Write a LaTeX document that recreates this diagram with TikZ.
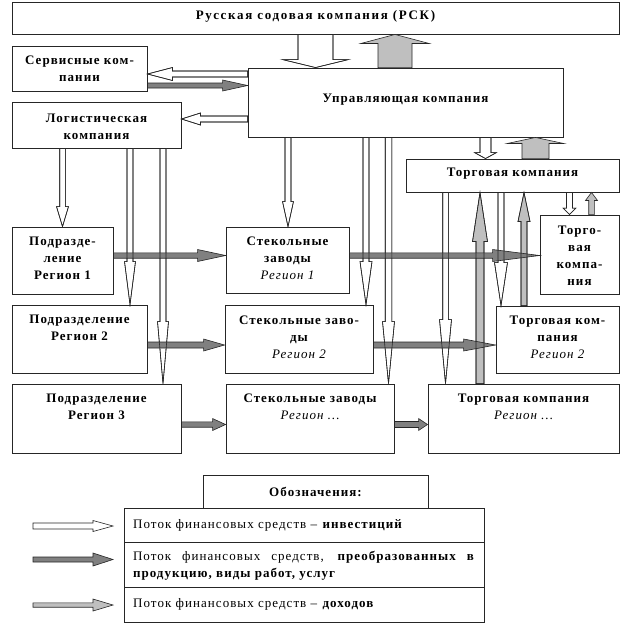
\documentclass[tikz,border=0pt]{standalone}
\usepackage{fontspec}
\setmainfont{Liberation Serif}[LetterSpace=8]
\usetikzlibrary{calc,fit}

\tikzset{
 box/.style={draw=black!85, line width=0.9pt, fill=white, inner sep=0pt},
 txt/.style={font=\bfseries\fontsize{13}{17}\selectfont, align=center, inner sep=0pt},
 ltxt/.style={font=\fontsize{13}{17}\selectfont, inner sep=0pt},
 wA/.style={draw=black!85, line width=0.6pt, fill=white},
 wO/.style={draw=black!85, line width=0.6pt},
 dA/.style={draw=black!85, line width=0.6pt, fill=black!50},
 gA/.style={draw=black!85, line width=0.6pt, fill=black!25},
 gO/.style={draw=black!85, line width=0.6pt},
}

% block arrow: style, start, end, shaft half width, head half width, head length
\newcommand\barr[6]{%
 \path #2 coordinate (ba-s) #3 coordinate (ba-e);
 \coordinate (ba-h) at ($(ba-e)!#6pt!(ba-s)$);
 \draw[#1] ($(ba-s)!#4pt!90:(ba-e)$) -- ($(ba-h)!#4pt!90:(ba-e)$) -- ($(ba-h)!#5pt!90:(ba-e)$) -- (ba-e) -- ($(ba-h)!#5pt!-90:(ba-e)$) -- ($(ba-h)!#4pt!-90:(ba-e)$) -- ($(ba-s)!#4pt!-90:(ba-e)$) -- cycle;
}

\newcommand\whitearrows[1]{%
 \barr{#1}{(rsk.south)}{(upr.north -| rsk.south)}{17.5}{33}{8}
 \barr{#1}{(upr.west |- 0,74)}{(serv.east |- 0,74)}{3}{6.5}{25}
 \barr{#1}{(upr.west |- 0,119)}{(logist.east |- 0,119)}{3}{6}{19}
 \barr{#1}{(62.5,0 |- logist.south)}{(62.5,0 |- reg1.north)}{2.8}{6}{20}
 \barr{#1}{(130,0 |- logist.south)}{(130,0 |- reg2.north)}{3}{5.5}{43}
 \barr{#1}{(163,0 |- logist.south)}{(163,0 |- reg3.north)}{3}{5.5}{62}
 \barr{#1}{(288,0 |- upr.south)}{(288,0 |- st1.north)}{3}{5.5}{25}
 \barr{#1}{(366,0 |- upr.south)}{(366,0 |- st2.north)}{3}{6}{43}
 \barr{#1}{(388.5,0 |- upr.south)}{(388.5,0 |- st3.north)}{3.3}{6}{62}
 \barr{#1}{(485.5,0 |- upr.south)}{(485.5,0 |- torg.north)}{5.5}{11}{6}
 \barr{#1}{(569.5,0 |- torg.south)}{(569.5,0 |- torgS.north)}{3}{6.5}{6.5}
 \barr{#1}{(501,0 |- torg.south)}{(501,0 |- tk2.north)}{3}{6.5}{43}
 \barr{#1}{(445.5,0 |- torg.south)}{(445.5,0 |- tk3.north)}{2.8}{6}{64}
}

\newcommand\tallgrey[1]{%
 \barr{#1}{(480,0 |- tk3.north)}{(480,0 |- torg.south)}{4}{7.5}{49}
 \barr{#1}{(524,0 |- tk2.north)}{(524,0 |- torg.south)}{3}{6}{29}
}

\begin{document}
\begin{tikzpicture}[x=1pt,y=-1pt]
\useasboundingbox (0,0) rectangle (642,633);

% boxes
\node[box, fit={(12,2) (619,34)}] (rsk) {};
\node[box, fit={(12,46) (147,91)}] (serv) {};
\node[box, fit={(12,102) (181,148)}] (logist) {};
\node[box, fit={(248,68) (563,137)}] (upr) {};
\node[box, fit={(406,159) (619,192)}] (torg) {};
\node[box, fit={(12,227) (113,294)}] (reg1) {};
\node[box, fit={(226,227) (349,293)}] (st1) {};
\node[box, fit={(540,215) (619,294)}] (torgS) {};
\node[box, fit={(12,305) (147,373)}] (reg2) {};
\node[box, fit={(225,305) (373,373)}] (st2) {};
\node[box, fit={(496,306) (619,373)}] (tk2) {};
\node[box, fit={(12,384) (181,453)}] (reg3) {};
\node[box, fit={(226,384) (394,453)}] (st3) {};
\node[box, fit={(428,384) (619,453)}] (tk3) {};
\node[box, fit={(203,475) (428,508)}] (legT) {};
\node[box, fit={(124,508) (484,542)}] (leg1) {};
\node[box, fit={(124,542) (484,587)}] (leg2) {};
\node[box, fit={(124,587) (484,622)}] (leg3) {};

% texts
\node[txt] (rskT) at (315.5,16.5) {\addfontfeature{LetterSpace=13}Русская содовая компания (РСК)};
\node[txt] (servT) at (79.5,69) {Сервисные ком-\\пании};
\node[txt] (logistT) at (96.5,126.5) {Логистическая\\компания};
\node[txt] (uprT) at (405.5,100) {Управляющая компания};
\node[txt] (torgT) at (512.5,174) {Торговая компания};
\node[txt] (reg1T) at (62.5,258.5) {Подразде-\\ление\\Регион 1};
\node[txt] (st1T) at (287.5,258.5) {Стекольные\\заводы\\{\mdseries\itshape Регион 1}};
\node[txt] (torgST) at (579.5,256) {Торго-\\вая\\компа-\\ния};
\node[txt] (reg2T) at (79.5,328) {Подразделение\\Регион 2};
\node[txt] (st2T) at (299,337.5) {Стекольные заво-\\ды\\{\mdseries\itshape Регион 2}};
\node[txt] (tk2T) at (557.5,337.5) {Торговая ком-\\пания\\{\mdseries\itshape Регион 2}};
\node[txt] (reg3T) at (96.5,407) {Подразделение\\Регион 3};
\node[txt] (st3T) at (310,407) {Стекольные заводы\\{\mdseries\itshape Регион …}};
\node[txt] (tk3T) at (523.5,407) {Торговая компания\\{\mdseries\itshape Регион …}};
\node[txt] (legTT) at (315.5,492) {Обозначения:};
\node[ltxt, anchor=west] (l1T) at (133,525) {Поток финансовых средств – \textbf{инвестиций}};
\node[ltxt, text width=342pt, align=justify] (l2T) at (304,565.5) {Поток финансовых средств, \textbf{преобразованных в}\linebreak \textbf{продукцию, виды работ, услуг}};
\node[ltxt, anchor=west] (l3T) at (133,604) {Поток финансовых средств – \textbf{доходов}};

% white arrows (filled)
\whitearrows{wA}
% tall grey arrows (filled)
\tallgrey{gA}

% dark arrows
\barr{dA}{(serv.east |- 0,85.5)}{(upr.west |- 0,85.5)}{2.5}{5.5}{25}
\barr{dA}{(reg1.east |- 0,255.5)}{(st1.west |- 0,255.5)}{2.7}{6}{28}
\barr{dA}{(st1.east |- 0,255.5)}{(torgS.west |- 0,255.5)}{2.7}{6}{47}
\barr{dA}{(reg2.east |- 0,345)}{(st2.west |- 0,345)}{3}{6}{21}
\barr{dA}{(st2.east |- 0,345)}{(tk2.west |- 0,345)}{3}{6}{32}
\barr{dA}{(reg3.east |- 0,424.5)}{(st3.west |- 0,424.5)}{2.7}{6}{13}
\barr{dA}{(st3.east |- 0,424.5)}{(tk3.west |- 0,424.5)}{3}{6}{9}

% outlines of crossed arrows on top
\whitearrows{wO}
\tallgrey{gO}

% other grey arrows
\barr{gA}{(395,0 |- upr.north)}{(395,0 |- rsk.south)}{17}{34}{9}
\barr{gA}{(535.5,0 |- torg.north)}{(535.5,0 |- upr.south)}{13.5}{28}{6}
\barr{gA}{(591.5,0 |- torgS.north)}{(591.5,0 |- torg.south)}{2.8}{6}{8}

% legend arrows
\coordinate (lw1) at (33,526); \coordinate (lw2) at (113,526);
\coordinate (ld1) at (33,559.5); \coordinate (ld2) at (113,559.5);
\coordinate (lg1) at (33,605); \coordinate (lg2) at (113,605);
\barr{wA}{(lw1)}{(lw2)}{3}{5.5}{20}
\barr{dA}{(ld1)}{(ld2)}{2.5}{6.5}{20}
\barr{gA}{(lg1)}{(lg2)}{2.2}{6}{20}
\end{tikzpicture}
\end{document}
